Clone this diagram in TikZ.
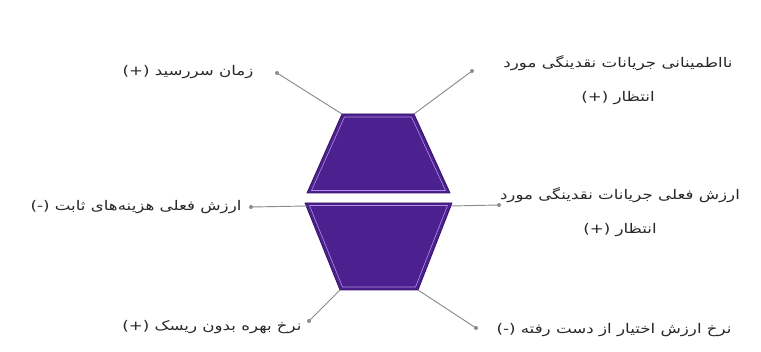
\documentclass[tikz,border=0pt]{standalone}
\usepackage{fontspec}
\newfontfamily\arabicfont[Script=Arabic,FakeStretch=1.25]{DejaVu Sans}
\TeXXeTstate=1
\definecolor{hexfill}{RGB}{76,32,142}
\definecolor{hexedge}{RGB}{55,20,105}
\definecolor{hexlight}{RGB}{175,145,225}
\definecolor{connc}{RGB}{140,140,140}
\definecolor{txtc}{RGB}{40,40,40}
\tikzset{
  lbl/.style={font=\arabicfont\fontsize{10}{25}\selectfont, text=txtc, align=center, inner sep=0pt},
  conn/.style={draw=connc, line width=0.7pt},
  piece/.style={fill=hexfill, draw=hexedge, line width=0.6pt, line join=round},
  inset/.style={draw=hexlight, line width=0.45pt, line join=round},
  dotc/.style={fill=connc}
}
\begin{document}
\begin{tikzpicture}[x=0.75pt,y=-0.75pt]
\useasboundingbox[fill=white] (0,0) rectangle (761,352);
% hexagon vertices
\coordinate (a1) at (342,114);
\coordinate (a2) at (414,114);
\coordinate (a3) at (450,193);
\coordinate (a4) at (307,193);
\coordinate (b1) at (305,203);
\coordinate (b2) at (452,203);
\coordinate (b3) at (418,290);
\coordinate (b4) at (340,290);
\coordinate (ml) at (307,206);
\coordinate (mr) at (451,206);
\path[piece] (a1) -- (a2) -- (a3) -- (a4) -- cycle;
\path[piece] (b1) -- (b2) -- (b3) -- (b4) -- cycle;
\draw[inset] (344.5,117) -- (411.5,117) -- (445.5,190.5) -- (311.5,190.5) -- cycle;
\draw[inset] (309.5,205.5) -- (447.5,205.5) -- (415.5,287) -- (342.5,287) -- cycle;
% labels
\node[lbl] (t1) at (188,72) {\beginR زمان سررسید (+)\endR};
\node[lbl] (t2) at (618,80) {\beginR نااطمینانی جریانات  نقدینگی مورد\endR\\\beginR انتظار (+)\endR};
\node[lbl] (t3) at (136,207) {\beginR ارزش فعلی هزینه‌های ثابت (-)\endR};
\node[lbl] (t4) at (620,212) {\beginR ارزش فعلی جریانات نقدینگی مورد\endR\\\beginR انتظار (+)\endR};
\node[lbl] (t5) at (212,327) {\beginR نرخ بهره بدون ریسک (+)\endR};
\node[lbl] (t6) at (614,330) {\beginR نرخ ارزش اختیار از دست رفته (-)\endR};
% dots
\coordinate (d1) at (277,73);
\coordinate (d2) at (472,71);
\coordinate (d3) at (251,207);
\coordinate (d4) at (499,205);
\coordinate (d5) at (309,321);
\coordinate (d6) at (476,328);
\draw[conn] (d1) -- (a1);
\draw[conn] (d2) -- (a2);
\draw[conn] (d3) -- (ml);
\draw[conn] (d4) -- (mr);
\draw[conn] (d5) -- (b4);
\draw[conn] (d6) -- (b3);
\foreach \d in {d1,d2,d3,d4,d5,d6} \fill[dotc] (\d) circle (2);
\end{tikzpicture}
\end{document}
